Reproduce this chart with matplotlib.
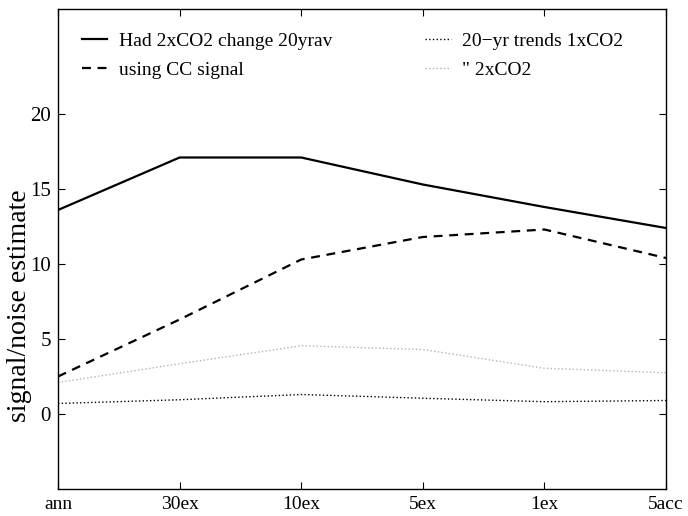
import numpy as np
import matplotlib
matplotlib.use("Agg")
import matplotlib.pyplot as plt

# categories on the x axis
labels = ['ann', '30ex', '10ex', '5ex', '1ex', '5acc']

# signal/noise estimates
had_2xco2 = [13.6, 17.1, 17.1, 15.3, 13.8, 12.4]
cc_signal = [2.5, 6.3, 10.3, 11.8, 12.3, 10.4]
trends_1xco2 = [0.7, 0.95, 1.3, 1.05, 0.82, 0.9]
trends_2xco2 = [2.1, 3.35, 4.55, 4.3, 3.05, 2.75]

plt.rcParams['font.family'] = ['Liberation Serif', 'DejaVu Serif']
plt.rcParams['font.size'] = 15

fig = plt.figure(figsize=(6.88, 5.16), dpi=100)
ax = fig.add_axes([58 / 688, 1 - 489 / 516, 608 / 688, 480 / 516])

x = np.arange(len(labels))
ax.plot(x, had_2xco2, '-', color='k', lw=1.6, label='Had 2xCO2 change 20yrav')
ax.plot(x, cc_signal, color='k', lw=1.6, dashes=(4, 3), label='using CC signal')
ax.plot(x, trends_1xco2, ':', color='k', lw=1.0, label='20\u2212yr trends 1xCO2')
ax.plot(x, trends_2xco2, ':', color='0.7', lw=1.0, label='" 2xCO2')

ax.set_xlim(0, 5)
ax.set_ylim(-5, 27)
ax.set_xticks(x)
ax.set_xticklabels(labels)
ax.set_yticks([0, 5, 10, 15, 20])
ax.tick_params(direction='in', length=5, width=0.8, top=True, right=True)
ax.tick_params(axis='x', pad=5, labelsize=14)
ax.tick_params(axis='y', pad=5, labelsize=15)
for s in ax.spines.values():
    s.set_linewidth(1.0)
ax.set_ylabel('signal/noise estimate', fontsize=20)
ax.yaxis.set_label_coords(-0.043, 0.381)

ax.legend(loc='upper left', bbox_to_anchor=(0.039, 0.952), ncol=2, frameon=False,
          borderpad=0, borderaxespad=0, handlelength=1.3, handletextpad=0.6,
          columnspacing=4.8, labelspacing=0.6, fontsize=14)

fig.savefig('out.png', dpi=100)
